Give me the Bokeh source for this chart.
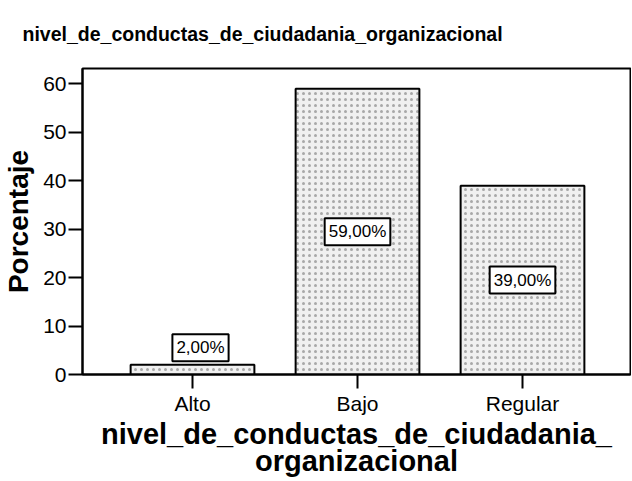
from bokeh.plotting import figure
from bokeh.models import Range1d, FixedTicker, Label
from bokeh.embed import file_html
from bokeh.resources import INLINE

# Data
categorias = ["Alto", "Bajo", "Regular"]
porcentajes = [2.0, 59.0, 39.0]
y_ticks = [0, 10, 20, 30, 40, 50, 60]

FONT = "Liberation Sans"

p = figure(width=631, height=480, output_backend="svg", toolbar_location=None,
           x_range=Range1d(-0.6667, 2.6545), y_range=Range1d(0, 63.2),
           title="nivel_de_conductas_de_ciudadania_organizacional",
           min_border_left=82, min_border_right=1, min_border_top=68, min_border_bottom=106)

xs = list(range(len(categorias)))
p.vbar(x=xs, top=porcentajes, bottom=0, width=0.75,
       fill_color="#f0f0f0", line_color="black", line_width=2,
       hatch_pattern="dot", hatch_color="#a8a8a8", hatch_scale=6, hatch_weight=1)

for i, v in enumerate(porcentajes):
    txt = f"{v:.2f}%".replace(".", ",")
    if v / 2 < 6:
        y, xo, yo = v, 8, 17
    else:
        y, xo, yo = v / 2, 0, 0
    p.add_layout(Label(x=i, y=y, x_offset=xo, y_offset=yo, text=txt,
                       text_align="center", text_baseline="middle",
                       text_font=FONT, text_font_size="17px", text_color="black",
                       background_fill_color="white", border_line_color="black",
                       border_line_width=2, padding=4))

p.xaxis.ticker = FixedTicker(ticks=xs)
p.xaxis.major_label_overrides = {i: c for i, c in enumerate(categorias)}
p.yaxis.ticker = FixedTicker(ticks=y_ticks)

p.grid.visible = False
p.outline_line_color = "black"
p.outline_line_width = 2
p.background_fill_color = "white"
p.border_fill_color = "white"

for ax in (p.xaxis[0], p.yaxis[0]):
    ax.axis_line_width = 2
    ax.axis_line_color = "black"
    ax.major_tick_line_width = 2
    ax.major_tick_line_color = "black"
    ax.major_tick_out = 14
    ax.major_tick_in = 0
    ax.minor_tick_line_color = None
    ax.major_label_text_font = FONT
    ax.major_label_text_font_size = "21px"
    ax.major_label_text_color = "black"
    ax.axis_label_text_font = FONT
    ax.axis_label_text_font_style = "bold"
    ax.axis_label_text_color = "black"

p.xaxis.axis_label_text_font_size = "29px"
p.yaxis.axis_label_text_font_size = "28px"
p.xaxis.axis_label = "nivel_de_conductas_de_ciudadania_\norganizacional"
p.yaxis.axis_label = "Porcentaje"
p.xaxis.major_label_standoff = 3
p.yaxis.major_label_standoff = 2
p.yaxis.axis_label_standoff = 6
p.xaxis.axis_label_standoff = 0
p.xaxis.axis_label_text_line_height = 0.87

p.title.text_font = FONT
p.title.text_font_size = "19.5px"
p.title.text_font_style = "bold"
p.title.text_color = "black"
p.title.align = "left"
p.title.vertical_align = "top"
p.title.offset = -60
p.title.standoff = 44

open("out.html", "w").write(file_html(p, INLINE))
